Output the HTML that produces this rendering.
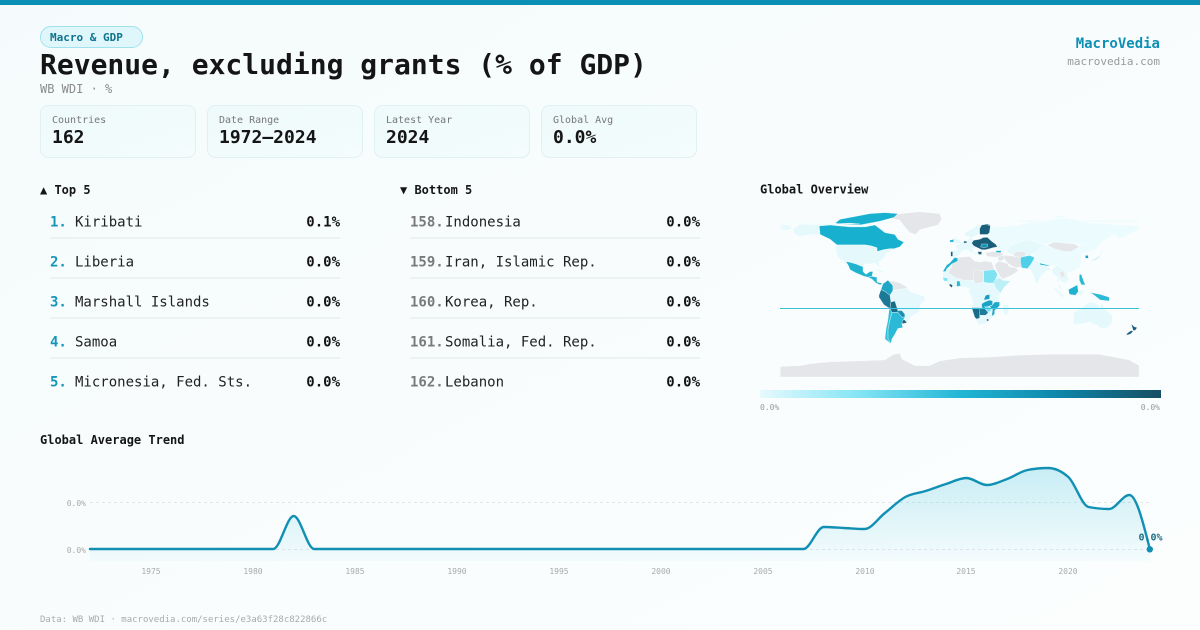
<!DOCTYPE html>
<html><head><meta charset="utf-8"><style>
html,body{margin:0;padding:0;width:1200px;height:630px;overflow:hidden;background:#f9fdfd;}
svg{display:block;}
text{font-family:"DejaVu Sans Mono","Liberation Mono",monospace;}
</style></head><body>
<svg width="1200" height="630" viewBox="0 0 1200 630" xmlns="http://www.w3.org/2000/svg">
<defs>
<linearGradient id="bg" x1="0" y1="0" x2="1" y2="1">
<stop offset="0" stop-color="#f5fbfc"/><stop offset="1" stop-color="#fcfefe"/>
</linearGradient>
<linearGradient id="card" x1="0" y1="0" x2="1" y2="1">
<stop offset="0" stop-color="#eefafb"/><stop offset="1" stop-color="#f4fcfc"/>
</linearGradient>
<linearGradient id="cbar" x1="0" y1="0" x2="1" y2="0">
<stop offset="0" stop-color="#e6fafd"/>
<stop offset="0.25" stop-color="#83e4f5"/>
<stop offset="0.5" stop-color="#22b6d5"/>
<stop offset="0.75" stop-color="#0e85a8"/>
<stop offset="1" stop-color="#164e63"/>
</linearGradient>
<linearGradient id="area" x1="0" y1="465" x2="0" y2="562" gradientUnits="userSpaceOnUse">
<stop offset="0" stop-color="#22b8d6" stop-opacity="0.24"/>
<stop offset="1" stop-color="#22b8d6" stop-opacity="0.03"/>
</linearGradient>
</defs>
<rect width="1200" height="630" fill="url(#bg)"/>
<rect width="1200" height="5" fill="#0b8fb5"/>

<!-- header -->
<rect x="40.5" y="26.5" width="102" height="21" rx="10.5" fill="#dff6fa" stroke="#9fe2ee"/>
<text x="50" y="41" font-size="11" font-weight="bold" fill="#0e7490">Macro &amp; GDP</text>
<text x="40" y="74" font-size="28" font-weight="bold" fill="#151515">Revenue, excluding grants (% of GDP)</text>
<text x="40" y="93" font-size="12" fill="#8a8a8a">WB WDI · %</text>
<text x="1160" y="48" font-size="14" font-weight="bold" fill="#0e8fb5" text-anchor="end">MacroVedia</text>
<text x="1160" y="65" font-size="11" fill="#9a9a9a" text-anchor="end">macrovedia.com</text>

<!-- cards -->
<g>
<rect x="40.5" y="105.5" width="155" height="52" rx="8" fill="url(#card)" stroke="#e1f1f3"/>
<text x="52" y="123" font-size="10" fill="#777">Countries</text>
<text x="52" y="143" font-size="18" font-weight="bold" fill="#151515">162</text>
<rect x="207.5" y="105.5" width="155" height="52" rx="8" fill="url(#card)" stroke="#e1f1f3"/>
<text x="219" y="123" font-size="10" fill="#777">Date Range</text>
<text x="219" y="143" font-size="18" font-weight="bold" fill="#151515">1972–2024</text>
<rect x="374.5" y="105.5" width="155" height="52" rx="8" fill="url(#card)" stroke="#e1f1f3"/>
<text x="386" y="123" font-size="10" fill="#777">Latest Year</text>
<text x="386" y="143" font-size="18" font-weight="bold" fill="#151515">2024</text>
<rect x="541.5" y="105.5" width="155" height="52" rx="8" fill="url(#card)" stroke="#e1f1f3"/>
<text x="553" y="123" font-size="10" fill="#777">Global Avg</text>
<text x="553" y="143" font-size="18" font-weight="bold" fill="#151515">0.0%</text>
</g>

<!-- top 5 -->
<text x="40" y="194" font-size="12" font-weight="bold" fill="#151515">▲ Top 5</text>
<g font-size="14">
<text x="50" y="226.5" font-weight="bold" fill="#1596b8">1.</text><text x="75" y="226.5" fill="#222">Kiribati</text><text x="340" y="226.5" text-anchor="end" font-weight="bold" fill="#151515">0.1%</text>
<text x="50" y="266.5" font-weight="bold" fill="#1596b8">2.</text><text x="75" y="266.5" fill="#222">Liberia</text><text x="340" y="266.5" text-anchor="end" font-weight="bold" fill="#151515">0.0%</text>
<text x="50" y="306.5" font-weight="bold" fill="#1596b8">3.</text><text x="75" y="306.5" fill="#222">Marshall Islands</text><text x="340" y="306.5" text-anchor="end" font-weight="bold" fill="#151515">0.0%</text>
<text x="50" y="346.5" font-weight="bold" fill="#1596b8">4.</text><text x="75" y="346.5" fill="#222">Samoa</text><text x="340" y="346.5" text-anchor="end" font-weight="bold" fill="#151515">0.0%</text>
<text x="50" y="386.5" font-weight="bold" fill="#1596b8">5.</text><text x="75" y="386.5" fill="#222">Micronesia, Fed. Sts.</text><text x="340" y="386.5" text-anchor="end" font-weight="bold" fill="#151515">0.0%</text>
</g>
<g stroke="#e8eef0" stroke-width="1.5">
<line x1="50" y1="238" x2="340" y2="238"/><line x1="50" y1="278" x2="340" y2="278"/><line x1="50" y1="318" x2="340" y2="318"/><line x1="50" y1="358" x2="340" y2="358"/>
<line x1="410" y1="238" x2="700" y2="238"/><line x1="410" y1="278" x2="700" y2="278"/><line x1="410" y1="318" x2="700" y2="318"/><line x1="410" y1="358" x2="700" y2="358"/>
</g>

<!-- bottom 5 -->
<text x="400" y="194" font-size="12" font-weight="bold" fill="#151515">▼ Bottom 5</text>
<g font-size="14">
<text x="410" y="226.5" font-weight="bold" fill="#7a7a7a">158.</text><text x="445" y="226.5" fill="#222">Indonesia</text><text x="700" y="226.5" text-anchor="end" font-weight="bold" fill="#151515">0.0%</text>
<text x="410" y="266.5" font-weight="bold" fill="#7a7a7a">159.</text><text x="445" y="266.5" fill="#222">Iran, Islamic Rep.</text><text x="700" y="266.5" text-anchor="end" font-weight="bold" fill="#151515">0.0%</text>
<text x="410" y="306.5" font-weight="bold" fill="#7a7a7a">160.</text><text x="445" y="306.5" fill="#222">Korea, Rep.</text><text x="700" y="306.5" text-anchor="end" font-weight="bold" fill="#151515">0.0%</text>
<text x="410" y="346.5" font-weight="bold" fill="#7a7a7a">161.</text><text x="445" y="346.5" fill="#222">Somalia, Fed. Rep.</text><text x="700" y="346.5" text-anchor="end" font-weight="bold" fill="#151515">0.0%</text>
<text x="410" y="386.5" font-weight="bold" fill="#7a7a7a">162.</text><text x="445" y="386.5" fill="#222">Lebanon</text><text x="700" y="386.5" text-anchor="end" font-weight="bold" fill="#151515">0.0%</text>
</g>

<!-- map -->
<text x="760" y="193.5" font-size="12" font-weight="bold" fill="#151515">Global Overview</text>
<g transform="translate(959.7,291.5) scale(0.997,-0.95)" stroke="#ffffff" stroke-width="0.35">
<!-- Antarctica -->
<polygon fill="#e4e6e9" points="-180,-90 -180,-79 -160,-78 -150,-76 -130,-74 -100,-73 -75,-72 -66,-66 -60,-65 -58,-71 -45,-78 -30,-78 -20,-73 0,-70 30,-69 60,-67 90,-66 120,-66 140,-66 160,-70 170,-72 180,-78 180,-90"/>
<!-- Greenland -->
<polygon fill="#e4e6e9" points="-73,78 -60,82 -40,84 -20,82 -18,76 -22,70 -40,65 -44,60 -50,62 -55,68 -60,75"/>
<!-- Chukotka wrap -->
<polygon fill="#e8fafc" points="-180,71 -170,70 -168,66 -175,64 -180,65"/>
<polygon fill="#e8fafc" points="-180,73 -60,73 -60,72 -180,72"/>
<polygon fill="#e8fafc" points="60,75 180,75 180,73.5 60,73.5"/>
<!-- Canada arctic -->
<polygon fill="#17b1cf" points="-125,72 -120,76 -105,79 -90,82 -75,83 -62,82 -66,78 -80,74 -90,72 -100,70 -115,70"/>
<polygon fill="#e8fafc" points="-168,68 -150,71 -128,71 -110,72 -100,71"/>
<!-- Canada -->
<polygon fill="#17b1cf" points="-141,69 -130,70 -120,69 -110,68 -95,68 -85,70 -80,66 -75,62 -65,60 -62,55 -56,52 -60,47 -66,45 -70,45 -76,44 -83,42 -83,46 -89,48 -95,49 -123,49 -130,55 -140,60"/>
<!-- Alaska -->
<polygon fill="#e5f9fc" points="-168,65 -160,71 -141,70 -141,60 -150,60 -160,58 -165,60"/>
<!-- USA -->
<polygon fill="#e5f9fc" points="-124,48 -123,49 -95,49 -89,48 -83,46 -83,42 -76,44 -70,45 -67,45 -70,42 -74,40 -76,35 -81,31 -80,25 -82,27 -85,30 -90,29 -95,29 -97,26 -104,29 -111,31 -117,32 -121,35 -124,40"/>
<!-- Mexico -->
<polygon fill="#20b3d0" points="-117,32 -111,31 -104,29 -97,26 -97,21 -94,18 -90,21 -87,21 -88,16 -92,15 -96,16 -105,20 -110,23 -112,28 -114,31"/>
<polygon fill="#23b5d2" points="-92,15 -88,16 -83,15 -83,10 -79,9 -77,8 -80,7 -84,9 -88,13"/>
<polygon fill="#e5f9fc" points="-85,22 -80,23 -74,20 -78,20"/>
<!-- South America -->
<polygon fill="#e4e6e9" points="-73,11 -67,11 -60,9 -55,6 -52,4 -58,2 -64,2 -67,1 -67,6 -72,8"/>
<polygon fill="#e5f9fc" points="-70,-4 -67,1 -60,2 -52,4 -50,0 -44,-2 -35,-5 -35,-9 -39,-14 -41,-22 -48,-26 -53,-33 -57,-30 -55,-27 -55,-24 -58,-20 -62,-20 -65,-10 -70,-10"/>
<polygon fill="#1fa6c6" points="-77,8 -72,12 -67,6 -67,1 -70,-4 -75,0 -79,2"/>
<polygon fill="#1c7897" points="-81,-4 -79,2 -75,0 -70,-4 -69,-11 -70,-18 -76,-14 -81,-6"/>
<polygon fill="#1a6d88" points="-69,-11 -65,-10 -62,-20 -58,-20 -62,-22 -68,-22 -70,-18"/>
<polygon fill="#1d8fb0" points="-62,-20 -58,-20 -55,-24 -55,-27 -58,-27 -62,-22"/>
<polygon fill="#2bbad5" points="-68,-22 -62,-22 -58,-27 -55,-27 -58,-34 -57,-38 -62,-39 -65,-45 -68,-50 -69,-55 -72,-50 -72,-40 -70,-30"/>
<polygon fill="#30c0da" points="-70,-18 -68,-22 -70,-30 -72,-40 -72,-50 -69,-55 -75,-50 -74,-40 -72,-30 -71,-20"/>
<polygon fill="#1a5f7a" points="-58,-34 -53,-33 -55,-30 -57,-30"/>
<!-- Europe base -->
<polygon fill="#e5f9fc" points="-10,36 -9,43 -2,44 -4,48 2,51 5,53 8,54 10,57 12,56 14,54 12,51 14,48 16,46 13,45 14,41 18,40 16,38 12,41 8,44 3,43 0,39 -2,37"/>
<polygon fill="#e5f9fc" points="5,58 5,62 12,66 18,70 22,70 20,64 18,60 12,56 8,58"/>
<polygon fill="#e5f9fc" points="-5,50 1,51 2,53 -3,56 -5,58 -6,55"/>
<polygon fill="#22b4d2" points="-10,52 -6,52 -6,55 -10,54"/>
<polygon fill="#1a5f7a" points="4,51 7,51 7,53 4,53"/>
<polygon fill="#1a5f7a" points="-9,37 -7,37 -7,42 -9,42"/>
<!-- Scandinavia / E. Europe dark -->
<polygon fill="#1a5f7a" points="20,60 20,66 22,70 28,71 31,70 30,62 28,60 24,60"/>
<polygon fill="#1a5f7a" points="14,54 20,55 24,57 28,57 32,53 36,50 38,47 33,46 30,45 26,44 22,44 18,46 14,48 12,51"/>
<polygon fill="#1593b4" points="22,50 28,50 28,47 24,46 21,47"/>
<polygon fill="#1a5f7a" points="18,42 22,42 22,39 19,39"/>
<polygon fill="#e4e6e9" points="26,41 36,42 42,41 44,38 36,36 27,37"/>
<polygon fill="#1fb0ce" points="36,43 42,43 41,41 37,41"/>
<!-- Russia -->
<polygon fill="#ecfbfd" points="28,70 40,68 50,69 60,70 70,73 80,73 100,77 110,77 130,72 140,72 160,70 170,70 180,68 180,65 170,60 160,55 155,60 142,52 140,48 135,43 130,42 127,50 120,50 110,50 100,50 90,50 80,50 70,55 60,52 50,48 47,42 40,44 38,47 36,50 32,53 28,57 28,60 30,62 31,70"/>
<polygon fill="#ecfbfd" points="50,72 60,76 68,77 58,74"/>
<polygon fill="#ecfbfd" points="90,77 100,80 110,79 100,77"/>
<!-- Central Asia -->
<polygon fill="#e5f9fc" points="47,42 50,48 60,52 70,55 80,50 87,49 80,45 75,40 70,38 61,36 55,37 50,40"/>
<polygon fill="#e4e6e9" points="55,37 61,36 66,38 66,42 58,42 54,40"/>
<polygon fill="#e4e6e9" points="88,49 95,52 105,51 115,50 120,47 112,42 105,42 95,43"/>
<!-- Middle East -->
<polygon fill="#e4e6e9" points="35,28 39,32 47,30 50,26 56,25 59,22 52,17 43,13 40,17 37,22"/>
<polygon fill="#e4e6e9" points="44,38 48,38 55,37 61,36 61,31 63,26 57,25 52,27 48,30 45,34"/>
<polygon fill="#4fcfe8" points="61,36 70,38 75,36 74,32 71,28 68,24 62,25 61,31"/>
<polygon fill="#e4e6e9" points="39,37 44,38 45,34 41,32 38,33"/>
<!-- China -->
<polygon fill="#ecfbfd" points="75,40 80,45 87,49 95,45 105,42 112,42 120,47 120,50 127,50 135,48 130,42 122,40 122,30 120,25 110,20 105,22 98,25 92,28 80,30 75,35"/>
<!-- India -->
<polygon fill="#e5f9fc" points="68,24 72,22 77,8 80,13 82,17 87,22 92,22 89,27 80,30 75,35 71,28"/>
<polygon fill="#22b4d2" points="80,30 88,28 92,28 88,27 81,28"/>
<!-- SE Asia -->
<polygon fill="#e5f9fc" points="92,22 98,28 105,22 108,21 109,12 106,9 103,10 100,13 99,8 100,3 103,1 101,6 98,10 98,16 94,17"/>
<polygon fill="#e4e6e9" points="100,20 104,22 106,16 102,14"/>
<polygon fill="#2ab8d4" points="120,18 122,18 124,12 126,7 122,7 120,12"/>
<polygon fill="#b6ecf6" points="130,32 135,34 141,38 142,43 145,44 141,41 140,36 136,33"/>
<polygon fill="#1a9fc2" points="126,35 129,35 129,38 126,38"/>
<!-- Indonesia / PNG -->
<polygon fill="#e5f9fc" points="95,5 106,-6 103,-6 95,2"/>
<polygon fill="#1fb2d0" points="109,2 118,7 119,0 116,-4 110,-3"/>
<polygon fill="#e5f9fc" points="105,-6 115,-8 105,-7.5"/>
<polygon fill="#e5f9fc" points="119,1 125,1 122,-5 120,-4"/>
<polygon fill="#2cbad6" points="131,-1 141,-3 150,-6 150,-10 141,-9 135,-4"/>
<!-- Australia -->
<polygon fill="#e5f9fc" points="114,-22 114,-34 117,-35 123,-34 131,-32 135,-35 138,-35 140,-38 146,-39 150,-37 153,-32 153,-25 146,-19 142,-11 141,-17 136,-12 131,-11 126,-14 122,-18"/>
<!-- NZ -->
<polygon fill="#1a5f7a" points="172,-34 175,-37 178,-38 176,-41 174,-41"/>
<polygon fill="#1a5f7a" points="172,-41 174,-42 171,-45 167,-46 168,-44"/>
<!-- Africa -->
<polygon fill="#e5f9fc" points="-17,21 -17,15 -12,8 -8,5 0,5 8,4 10,2 9,-1 12,-5 13,-12 12,-17 15,-27 18,-34 20,-35 26,-34 32,-28 35,-24 35,-17 40,-15 40,-10 39,-5 42,0 51,11 44,11 43,13 38,18 35,23 33,28 32,31 25,32 20,31 15,32 10,37 0,36 -5,36 -10,30 -13,28"/>
<polygon fill="#e4e6e9" points="-8,29 -2,32 -2,35 0,36 10,37 15,32 20,31 25,32 32,31 35,23 24,22 24,15 15,12 4,12 -5,15 -12,20 -8,25"/>
<polygon fill="#1ab2d0" points="-17,21 -13,28 -10,30 -5,36 -2,35 -2,32 -8,29 -13,24 -14,21"/>
<polygon fill="#7ee2f2" points="24,22 35,23 38,18 36,13 34,9 28,9 24,10"/>
<polygon fill="#e4e6e9" points="14,23 24,22 24,10 15,8 14,13"/>
<polygon fill="#bdeff7" points="34,9 36,13 40,14 43,12 51,11 44,4 41,-2 36,4"/>
<polygon fill="#7ee2f2" points="-17,15 -12,14 -12,11 -16,11"/>
<polygon fill="#1a5f7a" points="-11,7 -8,4 -7,6 -9,8"/>
<polygon fill="#2ab8d4" points="-3,5 1,6 0,11 -3,11"/>
<polygon fill="#1a6d88" points="12,-17 20,-17 25,-18 20,-22 20,-28 17,-29 15,-27"/>
<polygon fill="#1d7c9a" points="20,-18 25,-18 29,-22 26,-25 20,-25 20,-22"/>
<polygon fill="#1ba4c6" points="22,-13 25,-11 30,-9 33,-10 33,-14 28,-16 25,-18 22,-17"/>
<polygon fill="#1a9cc0" points="24,-9 30,-8 30,-3 26,-4"/>
<polygon fill="#7ee2f2" points="25,-16 30,-16 32,-20 28,-22"/>
<polygon fill="#1ea8c9" points="35,-11 40,-11 40,-15 35,-20 35,-24 32,-26 33,-19 30,-16 33,-14"/>
<polygon fill="#1a5f7a" points="27,-29 29,-29 29,-31 27,-31"/>
<polygon fill="#e5f9fc" points="44,-13 50,-15 48,-25 44,-24 43,-18"/>
</g>
<line x1="780" y1="308.5" x2="1139" y2="308.5" stroke="#3dc0d9" stroke-width="1"/>
<rect x="760" y="390" width="401" height="8" fill="url(#cbar)"/>
<text x="760" y="410" font-size="8" fill="#999">0.0%</text>
<text x="1160" y="410" font-size="8" fill="#999" text-anchor="end">0.0%</text>

<!-- trend -->
<text x="40" y="444" font-size="12" font-weight="bold" fill="#151515">Global Average Trend</text>
<g stroke="#e3e7ea" stroke-width="1" stroke-dasharray="3,3">
<line x1="90" y1="502.5" x2="1150" y2="502.5"/>
<line x1="90" y1="549.5" x2="1150" y2="549.5"/>
</g>
<text x="86" y="506" font-size="8" fill="#aaa" text-anchor="end">0.0%</text>
<text x="86" y="553" font-size="8" fill="#aaa" text-anchor="end">0.0%</text>
<g font-size="8" fill="#aaa" text-anchor="middle">
<text x="151" y="574">1975</text><text x="253" y="574">1980</text><text x="355" y="574">1985</text><text x="457" y="574">1990</text><text x="559" y="574">1995</text><text x="661" y="574">2000</text><text x="763" y="574">2005</text><text x="865" y="574">2010</text><text x="966" y="574">2015</text><text x="1068" y="574">2020</text>
</g>
<path fill="url(#area)" d="M89.9,549 L273.3,549 C280.1,549 286.9,516 293.7,516 C300.5,516 307.3,549 314.1,549 L803.4,549 C810.2,549 817.0,527 823.8,527 C830.6,527 837.3,527.67 844.1,528 C850.9,528.33 857.7,529 864.5,529 C871.3,529 878.1,518.33 884.9,513 C891.7,507.67 898.5,500.67 905.3,497 C912.1,493.33 918.8,493.17 925.6,491 C932.4,488.83 939.2,486.17 946.0,484 C952.8,481.83 959.6,478 966.4,478 C973.2,478 980.0,485 986.8,485 C993.6,485 1000.3,481.5 1007.1,479 C1013.9,476.5 1020.7,471.33 1027.5,470 C1034.3,468.67 1041.1,468 1047.9,468 C1054.7,468 1061.5,471 1068.3,477 C1075.1,483 1081.8,505.67 1088.6,507 C1095.4,508.33 1102.2,509 1109.0,509 C1115.8,509 1122.6,495 1129.4,495 C1136.2,495 1143.0,522 1149.8,549 L1149.8,561 L89.9,561 Z"/>
<path fill="none" stroke="#1190b4" stroke-width="2.4" stroke-linejoin="round" stroke-linecap="round" d="M89.9,549 L273.3,549 C280.1,549 286.9,516 293.7,516 C300.5,516 307.3,549 314.1,549 L803.4,549 C810.2,549 817.0,527 823.8,527 C830.6,527 837.3,527.67 844.1,528 C850.9,528.33 857.7,529 864.5,529 C871.3,529 878.1,518.33 884.9,513 C891.7,507.67 898.5,500.67 905.3,497 C912.1,493.33 918.8,493.17 925.6,491 C932.4,488.83 939.2,486.17 946.0,484 C952.8,481.83 959.6,478 966.4,478 C973.2,478 980.0,485 986.8,485 C993.6,485 1000.3,481.5 1007.1,479 C1013.9,476.5 1020.7,471.33 1027.5,470 C1034.3,468.67 1041.1,468 1047.9,468 C1054.7,468 1061.5,471 1068.3,477 C1075.1,483 1081.8,505.67 1088.6,507 C1095.4,508.33 1102.2,509 1109.0,509 C1115.8,509 1122.6,495 1129.4,495 C1136.2,495 1143.0,522 1149.8,549"/>
<text x="1150.5" y="540.5" font-size="10" font-weight="bold" fill="#1b6f87" text-anchor="middle">0.0%</text>
<circle cx="1149.8" cy="549.3" r="3.2" fill="#1190b4"/>

<text x="40" y="622" font-size="9" fill="#aaa">Data: WB WDI · macrovedia.com/series/e3a63f28c822866c</text>
</svg>
</body></html>
